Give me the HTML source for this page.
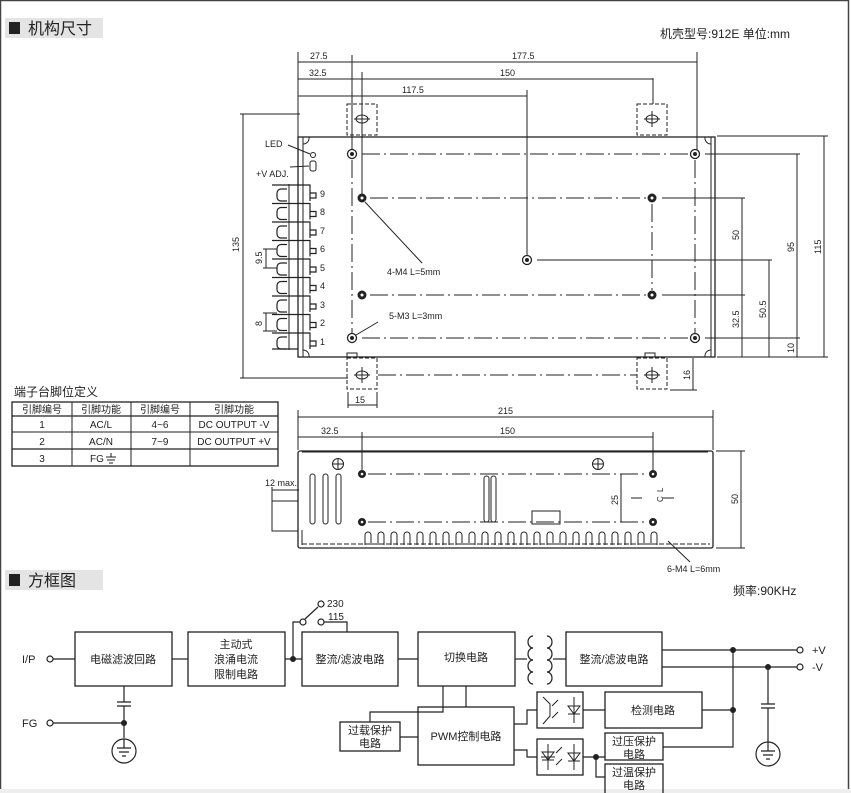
<!DOCTYPE html>
<html><head><meta charset="utf-8"><style>
html,body{margin:0;padding:0;background:#fff}
svg{display:block}
text{font-family:"Liberation Sans","Noto Sans CJK SC",sans-serif;fill:#222}
</style></head><body>
<svg width="851" height="793" viewBox="0 0 851 793" xmlns="http://www.w3.org/2000/svg" stroke="#222" fill="none" stroke-width="1">
<rect x="0.5" y="0.5" width="848" height="800" stroke="#444" stroke-width="1.5"/>
<rect x="0" y="789" width="851" height="4" fill="#eeeeee" stroke="none"/>
<rect x="5" y="18" width="98" height="20" fill="#e4e4e4" stroke="none"/>
<rect x="9" y="22" width="11" height="12" fill="#222" stroke="none"/>
<text x="28" y="34" font-size="16" stroke="none" fill="#333">机构尺寸</text>
<text x="660" y="38" font-size="12" stroke="none" fill="#444">机壳型号:912E  单位:mm</text>
<rect x="5" y="570" width="98" height="20" fill="#e4e4e4" stroke="none"/>
<rect x="9" y="574" width="11" height="12" fill="#222" stroke="none"/>
<text x="28" y="586" font-size="16" stroke="none" fill="#333">方框图</text>
<text x="733" y="595" font-size="12" stroke="none" fill="#444">频率:90KHz</text>

<g font-size="9">
<line x1="298" y1="52" x2="298" y2="137"/>
<line x1="352" y1="55" x2="352" y2="150"/>
<line x1="362" y1="72" x2="362" y2="195"/>
<line x1="527" y1="90" x2="527" y2="256"/>
<line x1="653" y1="78" x2="653" y2="104"/>
<line x1="697" y1="52" x2="697" y2="150"/>
<line x1="298" y1="62" x2="697" y2="62"/>
<line x1="298" y1="79" x2="653" y2="79"/>
<line x1="298" y1="96" x2="527" y2="96"/>
<text x="310" y="59" stroke="none">27.5</text>
<text x="512" y="59" stroke="none">177.5</text>
<text x="309" y="76" stroke="none">32.5</text>
<text x="500" y="76" stroke="none">150</text>
<text x="402" y="93" stroke="none">117.5</text>
<line x1="243" y1="114" x2="243" y2="378"/>
<line x1="240" y1="114" x2="300" y2="114"/>
<line x1="240" y1="378" x2="348" y2="378"/>
<text transform="translate(239,252) rotate(-90)" stroke="none">135</text>
<line x1="717" y1="136" x2="828" y2="136"/>
<line x1="705" y1="154" x2="800" y2="154"/>
<line x1="662" y1="198" x2="745" y2="198"/>
<line x1="537" y1="260" x2="772" y2="260"/>
<line x1="662" y1="295" x2="745" y2="295"/>
<line x1="705" y1="338" x2="800" y2="338"/>
<line x1="717" y1="357" x2="828" y2="357"/>
<line x1="742" y1="198" x2="742" y2="357"/>
<line x1="769" y1="260" x2="769" y2="357"/>
<line x1="797" y1="154" x2="797" y2="357"/>
<line x1="824" y1="136" x2="824" y2="357"/>
<text transform="translate(739,240) rotate(-90)" stroke="none">50</text>
<text transform="translate(739,328) rotate(-90)" stroke="none">32.5</text>
<text transform="translate(766,318) rotate(-90)" stroke="none">50.5</text>
<text transform="translate(794,252) rotate(-90)" stroke="none">95</text>
<text transform="translate(794,353) rotate(-90)" stroke="none">10</text>
<text transform="translate(821,254) rotate(-90)" stroke="none">115</text>
<line x1="670" y1="390" x2="697" y2="390"/>
<line x1="693" y1="358" x2="693" y2="390"/>
<text transform="translate(690,380) rotate(-90)" stroke="none">16</text>
<line x1="348" y1="392" x2="348" y2="408"/>
<line x1="377" y1="392" x2="377" y2="408"/>
<line x1="348" y1="405" x2="377" y2="405"/>
<text x="355" y="403" stroke="none">15</text>
</g>
<rect x="298" y="137" width="417" height="220" stroke-width="1.3"/>
<line x1="303" y1="137" x2="303" y2="357"/>
<line x1="711" y1="137" x2="711" y2="357"/>
<path d="M303 144 A6 6 0 0 0 309 137 M711 144 A6 6 0 0 1 705 137 M303 350 A6 6 0 0 1 309 357 M711 350 A6 6 0 0 0 705 357"/>
<g stroke-dasharray="4,2">
<rect x="347" y="104" width="30" height="31"/>
<rect x="637" y="104" width="30" height="31"/>
<rect x="347" y="358" width="30" height="31"/>
<rect x="637" y="358" width="30" height="31"/>
</g>
<g>
<ellipse cx="362" cy="119" rx="6" ry="4"/><line x1="362" y1="111" x2="362" y2="127"/><line x1="354" y1="119" x2="370" y2="119"/>
<ellipse cx="652" cy="119" rx="6" ry="4"/><line x1="652" y1="111" x2="652" y2="127"/><line x1="644" y1="119" x2="660" y2="119"/>
<ellipse cx="362" cy="375" rx="6" ry="4"/><line x1="362" y1="367" x2="362" y2="383"/><line x1="354" y1="375" x2="370" y2="375"/>
<ellipse cx="652" cy="375" rx="6" ry="4"/><line x1="652" y1="367" x2="652" y2="383"/><line x1="644" y1="375" x2="660" y2="375"/>
</g>
<rect x="347" y="353" width="10" height="4"/><rect x="645" y="353" width="10" height="4"/>
<g stroke-dasharray="18,4,2,4">
<line x1="362" y1="154" x2="690" y2="154"/>
<line x1="362" y1="338" x2="690" y2="338"/>
<line x1="352" y1="160" x2="352" y2="333"/>
<line x1="695" y1="160" x2="695" y2="333"/>
<line x1="370" y1="198" x2="647" y2="198"/>
<line x1="370" y1="295" x2="647" y2="295"/>
<line x1="652" y1="204" x2="652" y2="290"/>
<line x1="378" y1="375" x2="637" y2="375"/>
</g>
<g fill="#fff" stroke-width="1.3">
<circle cx="352" cy="154" r="4.5"/><circle cx="695" cy="154" r="4.5"/><circle cx="352" cy="338" r="4.5"/><circle cx="695" cy="338" r="4.5"/><circle cx="527" cy="260" r="4.5"/>
</g>
<g fill="#222" stroke="none">
<circle cx="352" cy="154" r="2"/><circle cx="695" cy="154" r="2"/><circle cx="352" cy="338" r="2"/><circle cx="695" cy="338" r="2"/><circle cx="527" cy="260" r="2"/>
</g>
<g fill="#222" stroke-width="1">
<circle cx="362" cy="198" r="4"/><circle cx="652" cy="198" r="4"/><circle cx="362" cy="295" r="4"/><circle cx="652" cy="295" r="4"/>
</g>
<g fill="#fff" stroke="none">
<circle cx="362" cy="198" r="1.5"/><circle cx="652" cy="198" r="1.5"/><circle cx="362" cy="295" r="1.5"/><circle cx="652" cy="295" r="1.5"/>
</g>
<line x1="365" y1="202" x2="422" y2="263"/>
<text x="387" y="275" font-size="9" stroke="none">4-M4 L=5mm</text>
<line x1="356" y1="335" x2="378" y2="322"/>
<text x="389" y="319" font-size="9" stroke="none">5-M3 L=3mm</text>
<text x="265" y="147" font-size="9" stroke="none">LED</text>
<line x1="288" y1="145" x2="310" y2="154"/>
<circle cx="313" cy="155" r="2.5"/>
<line x1="290" y1="167" x2="309" y2="166"/>
<rect x="310" y="161" width="6" height="10" rx="2"/>
<text x="256" y="177" font-size="9" stroke="none">+V ADJ.</text>
<line x1="298" y1="180" x2="298" y2="352"/>
<line x1="289" y1="184" x2="289" y2="350"/>
<g font-size="9">
<g stroke-width="1.2">
<path d="M272 185 H310 V201 M287 189 h-6 a4 4 0 0 0 -4 4 v4 a4 4 0 0 0 4 4 h6 M310 193 h6 v5 h-6"/>
<path d="M272 203.5 H310 V219.5 M287 207.5 h-6 a4 4 0 0 0 -4 4 v4 a4 4 0 0 0 4 4 h6 M310 211.5 h6 v5 h-6"/>
<path d="M272 222 H310 V238 M287 226 h-6 a4 4 0 0 0 -4 4 v4 a4 4 0 0 0 4 4 h6 M310 230 h6 v5 h-6"/>
<path d="M272 240.5 H310 V256.5 M287 244.5 h-6 a4 4 0 0 0 -4 4 v4 a4 4 0 0 0 4 4 h6 M310 248.5 h6 v5 h-6"/>
<path d="M272 259 H310 V275 M287 263 h-6 a4 4 0 0 0 -4 4 v4 a4 4 0 0 0 4 4 h6 M310 267 h6 v5 h-6"/>
<path d="M272 277.5 H310 V293.5 M287 281.5 h-6 a4 4 0 0 0 -4 4 v4 a4 4 0 0 0 4 4 h6 M310 285.5 h6 v5 h-6"/>
<path d="M272 296 H310 V312 M287 300 h-6 a4 4 0 0 0 -4 4 v4 a4 4 0 0 0 4 4 h6 M310 304 h6 v5 h-6"/>
<path d="M272 314.5 H310 V330.5 M287 318.5 h-6 a4 4 0 0 0 -4 4 v4 a4 4 0 0 0 4 4 h6 M310 322.5 h6 v5 h-6"/>
<path d="M272 333 H310 V349 M287 337 h-6 a4 4 0 0 0 -4 4 v4 a4 4 0 0 0 4 4 h6 M310 341 h6 v5 h-6"/>
<line x1="272" y1="349" x2="298" y2="349"/>
</g>
<text x="320" y="197" stroke="none">9</text>
<text x="320" y="215" stroke="none">8</text>
<text x="320" y="234" stroke="none">7</text>
<text x="320" y="252" stroke="none">6</text>
<text x="320" y="271" stroke="none">5</text>
<text x="320" y="289" stroke="none">4</text>
<text x="320" y="308" stroke="none">3</text>
<text x="320" y="326" stroke="none">2</text>
<text x="320" y="345" stroke="none">1</text>
<path d="M263 249 H277 M263 268 H277 M266 249 V268"/>
<text transform="translate(262,264) rotate(-90)" stroke="none">9.5</text>
<path d="M263 313 H277 M263 331 H277 M266 313 V331"/>
<text transform="translate(262,326) rotate(-90)" stroke="none">8</text>
</g>

<text x="14" y="396" font-size="12" stroke="none" fill="#444">端子台脚位定义</text>
<g stroke-width="1">
<rect x="12" y="402" width="266" height="64" stroke-width="1.3"/>
<line x1="12" y1="416" x2="278" y2="416" stroke-width="1.3"/>
<line x1="12" y1="432" x2="278" y2="432"/>
<line x1="12" y1="449" x2="278" y2="449" stroke-width="1.3"/>
<line x1="72" y1="402" x2="72" y2="466"/>
<line x1="131" y1="402" x2="131" y2="466"/>
<line x1="190" y1="402" x2="190" y2="466"/>
</g>
<g font-size="10" stroke="none" text-anchor="middle">
<text x="42" y="413" fill="#555">引脚编号</text>
<text x="101" y="413" fill="#555">引脚功能</text>
<text x="160" y="413" fill="#555">引脚编号</text>
<text x="234" y="413" fill="#555">引脚功能</text>
<text x="42" y="428">1</text><text x="101" y="428">AC/L</text><text x="160" y="428">4~6</text><text x="234" y="428">DC OUTPUT -V</text>
<text x="42" y="445">2</text><text x="101" y="445">AC/N</text><text x="160" y="445">7~9</text><text x="234" y="445">DC OUTPUT +V</text>
<text x="42" y="462">3</text><text x="97" y="462">FG</text>
</g>
<path d="M111 453 V457 M106 457 H116 M107 460 H115 M109 463 H113"/>

<g font-size="9">
<line x1="298" y1="410" x2="298" y2="450"/>
<line x1="713" y1="410" x2="713" y2="450"/>
<line x1="362" y1="432" x2="362" y2="470"/>
<line x1="653" y1="432" x2="653" y2="470"/>
<line x1="298" y1="417" x2="713" y2="417"/>
<line x1="298" y1="437" x2="653" y2="437"/>
<text x="498" y="414" stroke="none">215</text>
<text x="321" y="434" stroke="none">32.5</text>
<text x="500" y="434" stroke="none">150</text>
<line x1="716" y1="451" x2="745" y2="451"/>
<line x1="716" y1="548" x2="745" y2="548"/>
<line x1="741" y1="451" x2="741" y2="548"/>
<text transform="translate(738,504) rotate(-90)" stroke="none">50</text>
<line x1="621" y1="474" x2="621" y2="522"/>
<text transform="translate(618,505) rotate(-90)" stroke="none">25</text>
<line x1="631" y1="498" x2="642" y2="498"/><line x1="663" y1="498" x2="674" y2="498"/>
<text transform="translate(663,502) rotate(-90)" stroke="none" font-size="8">C</text>
<text transform="translate(663,492) rotate(-90)" stroke="none" font-size="8">L</text>
<text x="265" y="486" stroke="none">12 max.</text>
<line x1="272" y1="490" x2="299" y2="490"/>
<line x1="272" y1="487" x2="272" y2="501"/>
<line x1="668" y1="541" x2="690" y2="562"/>
<text x="667" y="572" stroke="none">6-M4 L=6mm</text>
</g>
<rect x="298" y="451" width="415" height="97" rx="2" stroke-width="1.3"/>
<line x1="302" y1="452" x2="708" y2="452"/>
<line x1="302" y1="544" x2="710" y2="544" stroke-dasharray="5,2"/>
<line x1="302" y1="530" x2="302" y2="545"/>
<rect x="272" y="501" width="26" height="30"/>
<g>
<rect x="310" y="474" width="5" height="50" rx="2.5"/>
<rect x="323" y="474" width="5" height="50" rx="2.5"/>
<rect x="336" y="474" width="5" height="50" rx="2.5"/>
<rect x="484" y="476" width="5" height="46" rx="2.5"/>
<rect x="491" y="476" width="5" height="46" rx="2.5"/>
<rect x="532" y="511" width="28" height="13"/>
</g>
<g stroke-dasharray="18,4,2,4">
<line x1="368" y1="474" x2="648" y2="474"/>
<line x1="368" y1="522" x2="648" y2="522"/>
</g>
<g><circle cx="338" cy="464" r="5.5"/><path d="M332.5 464 H343.5 M338 458.5 V469.5"/>
<circle cx="598" cy="464" r="5.5"/><path d="M592.5 464 H603.5 M598 458.5 V469.5"/></g>
<g fill="#222"><circle cx="362" cy="474" r="3.5"/><circle cx="653" cy="474" r="3.5"/><circle cx="362" cy="522" r="3.5"/><circle cx="653" cy="522" r="3.5"/></g>
<g fill="#fff" stroke="none"><circle cx="362" cy="474" r="1.3"/><circle cx="653" cy="474" r="1.3"/><circle cx="362" cy="522" r="1.3"/><circle cx="653" cy="522" r="1.3"/></g>
<path d="M365 545 V535 a3 3 0 0 1 6 0 V545 M378 545 V535 a3 3 0 0 1 6 0 V545 M391 545 V535 a3 3 0 0 1 6 0 V545 M404 545 V535 a3 3 0 0 1 6 0 V545 M417 545 V535 a3 3 0 0 1 6 0 V545 M430 545 V535 a3 3 0 0 1 6 0 V545 M443 545 V535 a3 3 0 0 1 6 0 V545 M456 545 V535 a3 3 0 0 1 6 0 V545 M469 545 V535 a3 3 0 0 1 6 0 V545 M482 545 V535 a3 3 0 0 1 6 0 V545 M495 545 V535 a3 3 0 0 1 6 0 V545 M508 545 V535 a3 3 0 0 1 6 0 V545 M521 545 V535 a3 3 0 0 1 6 0 V545 M534 545 V535 a3 3 0 0 1 6 0 V545 M547 545 V535 a3 3 0 0 1 6 0 V545 M560 545 V535 a3 3 0 0 1 6 0 V545 M573 545 V535 a3 3 0 0 1 6 0 V545 M586 545 V535 a3 3 0 0 1 6 0 V545 M599 545 V535 a3 3 0 0 1 6 0 V545 M612 545 V535 a3 3 0 0 1 6 0 V545 M625 545 V535 a3 3 0 0 1 6 0 V545 M638 545 V535 a3 3 0 0 1 6 0 V545 M651 545 V535 a3 3 0 0 1 6 0 V545"/>

<g stroke-width="1.3">
<rect x="75" y="632" width="97" height="54"/>
<rect x="188" y="632" width="97" height="54"/>
<rect x="302" y="632" width="96" height="54"/>
<rect x="418" y="632" width="97" height="54"/>
<rect x="566" y="632" width="96" height="54"/>
<rect x="418" y="707" width="96" height="58"/>
<rect x="340" y="722" width="60" height="29"/>
<rect x="605" y="692" width="97" height="36"/>
<rect x="605" y="733" width="58" height="27"/>
<rect x="605" y="764" width="58" height="30"/>
<rect x="537" y="692" width="46" height="36"/>
<rect x="537" y="739" width="46" height="36"/>
</g>
<g font-size="11" stroke="none" text-anchor="middle" fill="#444">
<text x="123" y="663">电磁滤波回路</text>
<text x="236" y="648">主动式</text>
<text x="236" y="663">浪涌电流</text>
<text x="236" y="678">限制电路</text>
<text x="350" y="663">整流/滤波电路</text>
<text x="466" y="661">切换电路</text>
<text x="614" y="663">整流/滤波电路</text>
<text x="653" y="714">检测电路</text>
<text x="634" y="745">过压保护</text>
<text x="634" y="758">电路</text>
<text x="634" y="776">过温保护</text>
<text x="634" y="789">电路</text>
<text x="370" y="734">过载保护</text>
<text x="370" y="747">电路</text>
<text x="466" y="740">PWM控制电路</text>
</g>
<g font-size="11" stroke="none">
<text x="22" y="663">I/P</text>
<text x="22" y="727">FG</text>
<text x="812" y="654">+V</text>
<text x="812" y="671">-V</text>
<text x="327" y="607" font-size="10">230</text>
<text x="328" y="620" font-size="10">115</text>
</g>
<g stroke-width="1.2">
<circle cx="50" cy="659" r="3" fill="#fff"/>
<line x1="53" y1="659" x2="75" y2="659"/>
<line x1="172" y1="659" x2="188" y2="659"/>
<line x1="285" y1="659" x2="302" y2="659"/>
<line x1="398" y1="659" x2="418" y2="659"/>
<line x1="515" y1="659" x2="527" y2="659"/>
<line x1="553" y1="659" x2="566" y2="659"/>
<path d="M293 659 V622 H300"/>
<circle cx="303" cy="622" r="3" fill="#fff"/>
<line x1="305" y1="619" x2="318" y2="607"/>
<circle cx="321" cy="604" r="3" fill="#fff"/>
<circle cx="321" cy="622" r="3" fill="#fff"/>
<path d="M324 622 H347 V632"/>
<path d="M533 636 a5 6 0 0 0 0 12 a5 6 0 0 0 0 12 a5 6 0 0 0 0 12 a5 6 0 0 0 0 12"/>
<path d="M547 636 a5 6 0 0 1 0 12 a5 6 0 0 1 0 12 a5 6 0 0 1 0 12 a5 6 0 0 1 0 12"/>
<line x1="662" y1="650" x2="797" y2="650"/>
<line x1="662" y1="667" x2="797" y2="667"/>
<circle cx="800" cy="650" r="3" fill="#fff"/>
<circle cx="800" cy="667" r="3" fill="#fff"/>
<path d="M733 650 V747 H663"/>
<path d="M733 710 H702"/>
<path d="M605 710 H583"/>
<path d="M537 710 H527 V724 H514"/>
<path d="M537 757 H527 V750 H514"/>
<path d="M583 757 H605"/>
<path d="M596 757 V777 H605"/>
<path d="M466 686 V707"/>
<path d="M443 686 V712 H370 V722"/>
<path d="M400 737 H418"/>
<path d="M124 686 V702 M117 702 H131 M117 706 H131 M124 706 V738"/>
<circle cx="50" cy="723" r="3" fill="#fff"/>
<line x1="53" y1="723" x2="124" y2="723"/>
<circle cx="124" cy="751" r="12"/>
<path d="M124 739 V748 M117 748 H131 M119 752 H129 M122 756 H126"/>
<path d="M768 667 V704 M761 704 H775 M761 708 H775 M768 708 V742"/>
<circle cx="768" cy="754" r="12"/>
<path d="M768 742 V751 M761 751 H775 M763 755 H773 M766 759 H770"/>
</g>
<g fill="#222" stroke="none">
<circle cx="293" cy="659" r="3"/><circle cx="733" cy="650" r="3"/><circle cx="768" cy="667" r="3"/><circle cx="733" cy="710" r="3"/><circle cx="596" cy="757" r="3"/><circle cx="124" cy="723" r="3"/>
</g>
<g stroke-width="1">
<path d="M543 697 L550 704 V716 L543 724"/>
<path d="M558 700 L552 706 M558 712 L552 718"/>
<path d="M574 697 V723 M568 706 H580 L574 714 Z M568 714 H580"/>
<path d="M541 757 H555 M548 744 V770 M542 752 H554 L548 760 Z M542 760 H554"/>
<path d="M562 747 L556 753 M562 759 L556 765"/>
<path d="M574 744 V770 M568 753 H580 L574 761 Z M568 761 H580"/>
</g>
</svg>
</body></html>
